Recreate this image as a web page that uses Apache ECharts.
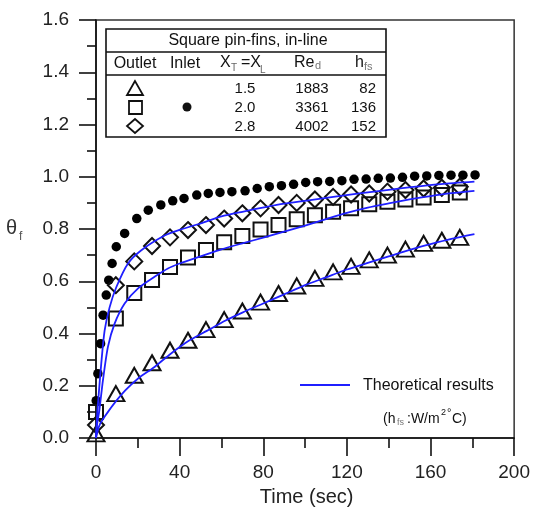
<!DOCTYPE html>
<html><head><meta charset="utf-8">
<script src="https://cdn.jsdelivr.net/npm/echarts@6/dist/echarts.min.js"></script>
<style>html,body{margin:0;padding:0;background:#fff}#c{width:533px;height:512px}</style>
</head><body><div id="c"></div>
<script>
// ---- data ----
const outletTimes = [0, 9.5, 18.3, 26.8, 35.4, 44, 52.6, 61.3, 70, 78.7, 87.3, 96, 104.7, 113.4, 122, 130.7, 139.4, 148, 156.7, 165.4, 174];
const tri15 = [0.016, 0.17, 0.24, 0.288, 0.336, 0.374, 0.415, 0.453, 0.486, 0.52, 0.553, 0.582, 0.611, 0.636, 0.657, 0.682, 0.70, 0.723, 0.745, 0.757, 0.768];
const sq20 = [0.10, 0.457, 0.555, 0.605, 0.655, 0.691, 0.72, 0.749, 0.773, 0.798, 0.815, 0.837, 0.853, 0.866, 0.879, 0.895, 0.904, 0.913, 0.921, 0.93, 0.94];
const dia28 = [0.05, 0.585, 0.676, 0.735, 0.768, 0.796, 0.815, 0.84, 0.86, 0.879, 0.892, 0.90, 0.913, 0.923, 0.932, 0.936, 0.943, 0.949, 0.955, 0.958, 0.962];
const inletTimes = [0.1, 0.9, 2.2, 3.4, 4.9, 6.1, 7.7, 9.7, 13.7, 19.5, 25, 31, 36.7, 42.1, 48.2, 53.7, 59.3, 65, 71.3, 77.1, 82.9, 88.7, 94.5, 100.3, 106, 111.8, 117.6, 123.4, 129.2, 135, 140.8, 146.6, 152.4, 158.2, 164, 169.8, 175.5, 181.3];
const inletVals = [0.143, 0.246, 0.361, 0.47, 0.547, 0.604, 0.668, 0.732, 0.783, 0.84, 0.872, 0.892, 0.908, 0.917, 0.93, 0.936, 0.94, 0.943, 0.946, 0.955, 0.962, 0.966, 0.971, 0.978, 0.981, 0.982, 0.985, 0.99, 0.991, 0.994, 0.995, 0.998, 1.002, 1.003, 1.005, 1.006, 1.006, 1.007];
const theoryTri = [[0,0],[0.9,0.03],[2,0.055],[4,0.08],[8,0.125],[14,0.182],[20,0.227],[28,0.272],[35,0.318],[44,0.37],[53,0.41],[62,0.45],[70,0.48],[80,0.515],[90,0.55],[100,0.585],[110,0.615],[120,0.645],[130,0.67],[140,0.695],[150,0.72],[160,0.742],[170,0.762],[181,0.78]];
const theorySq = [[0,0],[0.5,0.05],[1.6,0.106],[3.3,0.22],[5.7,0.349],[8.9,0.438],[13.7,0.515],[20,0.572],[28,0.617],[34.4,0.649],[40,0.668],[50,0.695],[60,0.722],[70,0.745],[80,0.767],[90,0.79],[100,0.813],[110,0.838],[120,0.862],[130,0.882],[140,0.898],[150,0.913],[160,0.926],[170,0.937],[181,0.946]];
const theoryDia = [[0,0],[0.4,0.07],[1.2,0.157],[2.5,0.284],[4.1,0.41],[6.5,0.50],[9.7,0.577],[15.3,0.668],[21.7,0.719],[32.8,0.775],[40,0.797],[50,0.821],[60,0.848],[70,0.866],[81.7,0.885],[90,0.897],[100,0.908],[113.5,0.923],[126,0.936],[140,0.95],[153,0.962],[165,0.972],[181,0.981]];
const xTicks = [0, 40, 80, 120, 160, 200];
const yTicks = [0, 0.2, 0.4, 0.6, 0.8, 1.0, 1.2, 1.4, 1.6];
const legendRows = [["1.5", "1883", "82"], ["2.0", "3361", "136"], ["2.8", "4002", "152"]];

const FONT = '"Liberation Sans", Arial, sans-serif';
const BLUE = '#1f1fff';
const INK = '#111';
const zip = (xs, ys) => xs.map((x, i) => [x, ys[i]]);

const chart = echarts.init(document.getElementById('c'), null, {renderer: 'canvas'});

function txt(x, y, s, size, opts) {
  return Object.assign({type: 'text', x: x, y: y, z: 100,
    style: Object.assign({text: s, font: size + 'px ' + FONT, fill: INK, textAlign: 'left', textVerticalAlign: 'middle'}, (opts || {}))});
}
const g = [];
// legend table box
g.push({type: 'rect', z: 90, shape: {x: 106, y: 29, width: 280, height: 108}, style: {fill: '#fff', stroke: INK, lineWidth: 1.6}});
g.push({type: 'line', z: 91, shape: {x1: 106, y1: 52, x2: 386, y2: 52}, style: {stroke: INK, lineWidth: 1.4}});
g.push({type: 'line', z: 91, shape: {x1: 106, y1: 75, x2: 386, y2: 75}, style: {stroke: INK, lineWidth: 1.4}});
g.push(txt(248, 41, 'Square pin-fins, in-line', 16, {textAlign: 'center'}));
g.push(txt(135, 64, 'Outlet', 16, {textAlign: 'center'}));
g.push(txt(185, 64, 'Inlet', 16, {textAlign: 'center'}));
g.push(txt(220, 63, 'X', 16));
g.push(txt(231, 68, 'T', 10, {fill: '#666'}));
g.push(txt(241, 63, '=X', 16));
g.push(txt(260, 70, 'L', 10, {fill: '#666'}));
g.push(txt(294, 63, 'Re', 16));
g.push(txt(315, 66, 'd', 11, {fill: '#777'}));
g.push(txt(355, 63, 'h', 16));
g.push(txt(364, 67, 'fs', 11, {fill: '#777'}));
legendRows.forEach((r, i) => {
  const y = 89 + i * 19;
  g.push(txt(245, y, r[0], 15, {textAlign: 'center'}));
  g.push(txt(312, y, r[1], 15, {textAlign: 'center'}));
  g.push(txt(376, y, r[2], 15, {textAlign: 'right'}));
});
g.push({type: 'polygon', z: 95, shape: {points: [[135, 81], [127, 95], [143, 95]]}, style: {fill: 'none', stroke: INK, lineWidth: 1.8}});
g.push({type: 'rect', z: 95, shape: {x: 129, y: 101, width: 13, height: 13}, style: {fill: 'none', stroke: INK, lineWidth: 1.8}});
g.push({type: 'polygon', z: 95, shape: {points: [[135, 119], [143, 126], [135, 133], [127, 126]]}, style: {fill: 'none', stroke: INK, lineWidth: 1.8}});
g.push({type: 'circle', z: 95, shape: {cx: 187, cy: 107, r: 4.5}, style: {fill: INK}});
// theoretical legend
g.push({type: 'line', z: 95, shape: {x1: 300, y1: 385, x2: 350, y2: 385}, style: {stroke: BLUE, lineWidth: 1.8}});
g.push(txt(363, 386, 'Theoretical results', 16));
g.push(txt(383, 419, '(h', 14));
g.push(txt(397, 423, 'fs', 9, {fill: '#777'}));
g.push(txt(407, 419, ':W/m', 14));
g.push(txt(441, 413, '2', 9));
g.push(txt(447, 413, '\u00b0', 11));
g.push(txt(452, 419, 'C)', 14));
// y-axis title theta_f
g.push(txt(6, 228, '\u03b8', 20, {fill: '#333'}));
g.push(txt(19, 237, 'f', 12, {fill: '#555'}));

const axisLine = {show: true, lineStyle: {color: INK, width: 1.6}};
const hollow = {color: 'none', borderColor: INK, borderWidth: 2, opacity: 1};
const option = {
  backgroundColor: '#fff',
  animation: false,
  grid: {left: 96, right: 18, top: 20, bottom: 74, show: true, borderColor: '#333', borderWidth: 1.5},
  xAxis: {
    type: 'value', min: xTicks[0], max: xTicks[xTicks.length - 1], interval: 40,
    axisLine: axisLine,
    axisTick: {show: true, inside: false, length: 18, lineStyle: {color: INK, width: 1.6}},
    minorTick: {show: true, splitNumber: 2, length: 10, lineStyle: {color: INK, width: 1.6}},
    splitLine: {show: false},
    axisLabel: {color: '#222', fontSize: 19, fontFamily: FONT, margin: 25},
    name: 'Time (sec)', nameLocation: 'middle', nameGap: 49,
    nameTextStyle: {color: '#222', fontSize: 20, fontFamily: FONT, padding: [0, 0, 0, 3]}
  },
  yAxis: {
    type: 'value', min: yTicks[0], max: yTicks[yTicks.length - 1], interval: 0.2,
    axisLine: axisLine,
    axisTick: {show: true, inside: false, length: 17, lineStyle: {color: INK, width: 1.6}},
    minorTick: {show: true, splitNumber: 2, length: 9, lineStyle: {color: INK, width: 1.6}},
    splitLine: {show: false},
    axisLabel: {color: '#222', fontSize: 19, fontFamily: FONT, margin: 27, formatter: v => v.toFixed(1)}
  },
  series: [
    {type: 'scatter', name: 'inlet', data: zip(inletTimes, inletVals), symbol: 'circle', symbolSize: 9.5,
     itemStyle: {color: '#000', opacity: 1}, z: 3},
    {type: 'scatter', name: '1.5', data: zip(outletTimes, tri15), symbol: 'triangle', symbolSize: [17, 15],
     itemStyle: hollow, z: 3},
    {type: 'scatter', name: '2.0', data: zip(outletTimes, sq20), symbol: 'rect', symbolSize: 14,
     itemStyle: hollow, z: 3},
    {type: 'scatter', name: '2.8', data: zip(outletTimes, dia28), symbol: 'diamond', symbolSize: 16,
     itemStyle: hollow, z: 3},
    {type: 'line', name: 't1', data: theoryTri, showSymbol: false, smooth: 0.25, lineStyle: {color: BLUE, width: 1.8}, z: 5},
    {type: 'line', name: 't2', data: theorySq, showSymbol: false, smooth: 0.25, lineStyle: {color: BLUE, width: 1.8}, z: 5},
    {type: 'line', name: 't3', data: theoryDia, showSymbol: false, smooth: 0.25, lineStyle: {color: BLUE, width: 1.8}, z: 5}
  ],
  graphic: g
};
chart.setOption(option);
</script>
</body></html>
